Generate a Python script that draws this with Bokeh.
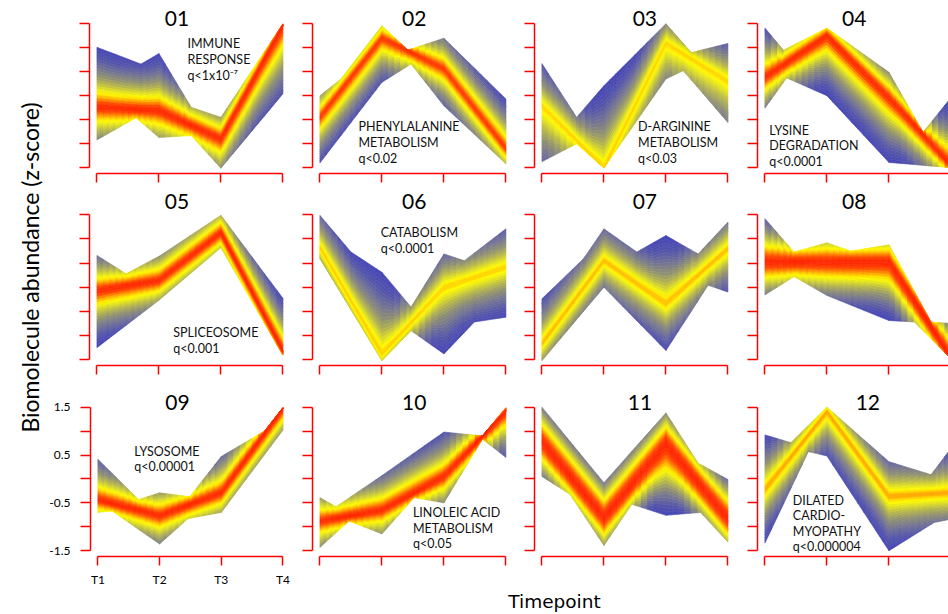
import numpy as np
from bokeh.plotting import figure
from bokeh.layouts import row, column
from bokeh.models import FixedTicker, Range1d
from bokeh.core.properties import value
from bokeh.embed import file_html
from bokeh.resources import INLINE

# ---------------- data (z-scores) ----------------
timepoints = [1, 2, 3, 4]
timepoint_labels = ["T1", "T2", "T3", "T4"]
y_ticks = [-1.5, -0.5, 0.5, 1.5]
y_minor_ticks = [-1.0, 0.0, 1.0]
cluster_ids = ["01", "02", "03", "04", "05", "06", "07", "08", "09", "10", "11", "12"]

# centre (highest-membership) profile of each cluster, at T1..T4
center_01 = [-0.24, -0.31, -0.90, 1.45]
center_02 = [-0.45, 1.20, 0.56, -1.10]
center_03 = [-0.20, -1.50, 1.10, 0.30]
center_04 = [0.38, 1.25, -0.04, -1.45]
center_05 = [-0.07, 0.14, 1.13, -1.31]
center_06 = [0.83, -1.38, 0.00, 0.42]
center_07 = [-1.17, 0.55, -0.34, 0.80]
center_08 = [0.52, 0.52, 0.52, -1.45]
center_09 = [-0.43, -0.77, -0.29, 1.47]
center_10 = [-0.88, -0.65, 0.05, 1.40]
center_11 = [0.78, -0.81, 0.74, -0.84]
center_12 = [-0.22, 1.40, -0.36, -0.29]

# upper envelope of the member profiles (time, z)
upper_01_t = [1, 1.71, 2, 2.52, 3, 4]
upper_01_z = [1.01, 0.66, 0.88, -0.24, -0.45, 1.50]
upper_02_t = [1, 1.34, 2, 2.42, 3, 4]
upper_02_z = [0.00, 0.35, 1.46, 0.95, 1.20, -0.07]
upper_03_t = [1, 1.56, 2, 3, 3.41, 4]
upper_03_z = [0.67, -0.45, 0.21, 1.50, 0.90, 1.09]
upper_04_t = [1, 1.30, 2, 3, 3.55, 4]
upper_04_z = [1.41, 0.95, 1.41, 0.49, -0.76, -0.04]
upper_05_t = [1, 1.47, 2, 3, 4]
upper_05_z = [0.66, 0.28, 0.64, 1.49, -0.23]
upper_06_t = [1, 1.50, 2, 2.47, 3, 3.33, 4]
upper_06_z = [1.49, 0.73, 0.31, -0.41, 0.69, 0.55, 1.21]
upper_07_t = [1, 1.67, 2, 2.53, 3, 3.52, 4]
upper_07_z = [-0.24, 0.59, 1.21, 0.73, 1.07, 0.69, 1.35]
upper_08_t = [1, 1.47, 2, 2.39, 3, 3.68, 4]
upper_08_z = [1.42, 0.73, 0.92, 0.75, 0.88, -0.72, -0.75]
upper_09_t = [1, 1.66, 2, 2.49, 3, 3.70, 4]
upper_09_z = [0.41, -0.43, -0.29, -0.37, 0.47, 1.00, 1.49]
upper_10_t = [1, 1.26, 2, 3, 3.62, 4]
upper_10_z = [-0.39, -0.58, 0.07, 0.98, 0.90, 1.49]
upper_11_t = [1, 2, 3, 3.52, 4]
upper_11_z = [1.50, -0.08, 1.38, 0.33, -0.01]
upper_12_t = [1, 1.42, 2, 3, 3.68, 4]
upper_12_z = [0.92, 0.76, 1.50, 0.36, 0.09, 0.64]

# lower envelope of the member profiles (time, z)
lower_01_t = [1, 1.63, 2, 2.52, 3, 4]
lower_01_z = [-0.92, -0.46, -0.87, -0.83, -1.51, 0.04]
lower_02_t = [1, 2, 2.47, 3, 4]
lower_02_z = [-1.40, 0.28, 0.66, -0.21, -1.42]
lower_03_t = [1, 1.56, 2, 3, 3.28, 4]
lower_03_z = [-1.375, -1.00, -1.50, 0.35, 0.52, -0.56]
lower_04_t = [1, 1.35, 2, 3, 4]
lower_04_z = [-0.26, 0.37, 0.00, -1.39, -1.50]
lower_05_t = [1, 2, 3, 4]
lower_05_z = [-1.25, -0.27, 0.82, -1.41]
lower_06_t = [1, 2, 2.47, 3, 3.49, 4]
lower_06_z = [0.59, -1.52, -0.90, -1.38, -0.72, -0.62]
lower_07_t = [1, 2, 3, 3.68, 4]
lower_07_z = [-1.52, 0.00, -1.31, 0.04, -0.10]
lower_08_t = [1, 1.47, 2, 3, 3.41, 4]
lower_08_z = [-0.16, 0.22, -0.17, -0.69, -0.72, -1.48]
lower_09_t = [1, 1.23, 2, 2.46, 3, 4]
lower_09_z = [-0.70, -0.67, -1.36, -0.83, -0.70, 1.02]
lower_10_t = [1, 1.47, 2, 2.52, 3, 3.62, 4]
lower_10_z = [-1.43, -0.88, -1.15, -0.39, -0.50, 0.83, 0.45]
lower_11_t = [1, 1.45, 2, 2.45, 3, 3.56, 4]
lower_11_z = [0.05, -0.32, -1.39, -0.53, -0.76, -0.70, -1.32]
lower_12_t = [1, 1.70, 2, 3, 3.73, 4]
lower_12_z = [-1.34, 0.57, 0.48, -1.50, -0.91, -0.84]

# enrichment annotations
label_01 = ["IMMUNE", "RESPONSE", "q<1x10\u207b\u2077"]
label_02 = ["PHENYLALANINE", "METABOLISM", "q<0.02"]
label_03 = ["D-ARGININE", "METABOLISM", "q<0.03"]
label_04 = ["LYSINE", "DEGRADATION", "q<0.0001"]
label_05 = ["SPLICEOSOME", "q<0.001"]
label_06 = ["CATABOLISM", "q<0.0001"]
label_09 = ["LYSOSOME", "q<0.00001"]
label_10 = ["LINOLEIC ACID", "METABOLISM", "q<0.05"]
label_12 = ["DILATED", "CARDIO-", "MYOPATHY", "q<0.000004"]

y_axis_title = "Biomolecule abundance (z-score)"
x_axis_title = "Timepoint"

clusters = {
    "01": (center_01, (upper_01_t, upper_01_z), (lower_01_t, lower_01_z)),
    "02": (center_02, (upper_02_t, upper_02_z), (lower_02_t, lower_02_z)),
    "03": (center_03, (upper_03_t, upper_03_z), (lower_03_t, lower_03_z)),
    "04": (center_04, (upper_04_t, upper_04_z), (lower_04_t, lower_04_z)),
    "05": (center_05, (upper_05_t, upper_05_z), (lower_05_t, lower_05_z)),
    "06": (center_06, (upper_06_t, upper_06_z), (lower_06_t, lower_06_z)),
    "07": (center_07, (upper_07_t, upper_07_z), (lower_07_t, lower_07_z)),
    "08": (center_08, (upper_08_t, upper_08_z), (lower_08_t, lower_08_z)),
    "09": (center_09, (upper_09_t, upper_09_z), (lower_09_t, lower_09_z)),
    "10": (center_10, (upper_10_t, upper_10_z), (lower_10_t, lower_10_z)),
    "11": (center_11, (upper_11_t, upper_11_z), (lower_11_t, lower_11_z)),
    "12": (center_12, (upper_12_t, upper_12_z), (lower_12_t, lower_12_z)),
}
labels = {"01": label_01, "02": label_02, "03": label_03, "04": label_04,
          "05": label_05, "06": label_06, "09": label_09, "10": label_10,
          "12": label_12}

# ---------------- layout / style ----------------
FONT = "Lato"
AXIS_RED = "#ff0000"
LEFT_STRIP_W = 46
COL_BORDER_L = [43, 12, 12, 12]
COL_BORDER_R = [10, 9, 10, 0]
COL_FRAME_W = [201, 201, 201, 191]
ROW_FRAME_H = [173, 180, 183]
ROW_BORDER_B = [12, 10, 31]
ROW_SCALE = [48.0, 48.3, 48.4]
BOTTOM_STRIP_H = 25
X_SCALE = 62.0
PAD = 0.12
ROW_TITLE_Y = [1.615, 1.78, 1.60]
TITLE_X = {"01": 2.29, "02": 2.52, "03": 2.66, "04": 2.44, "05": 2.29, "06": 2.52,
           "07": 2.66, "08": 2.44, "09": 2.29, "10": 2.52, "11": 2.58, "12": 2.66}
LABEL_POS = {"01": (2.46, 1.08), "02": (1.62, -0.646), "03": (2.55, -0.646),
             "04": (1.07, -0.715), "05": (2.23, -0.94), "06": (1.98, 1.13),
             "09": (1.59, 0.583), "10": (2.50, -0.70), "12": (1.45, -0.44)}
LABEL_STEP = 0.326
CORE = {"02": 0.03, "03": 0.185, "06": 0.18, "07": 0.16, "12": 0.14}
SHARP = {"11": 1.35, "08": 1.2}
REACH = {"01": (1.0, 0.85), "03": (1.0, 0.68)}   # colour reach (upper side, lower side)

# colour ramp: centre (0) -> outer, low-membership members (1)
STOP_POS = [0.00, 0.07, 0.13, 0.19, 0.24, 0.31, 0.40, 0.52, 0.66, 0.82, 1.00]
STOP_R = [255, 255, 255, 255, 255, 225, 185, 145, 115, 85, 70]
STOP_G = [35, 70, 140, 210, 250, 225, 185, 145, 115, 85, 70]
STOP_B = [0, 0, 0, 0, 0, 35, 75, 115, 150, 172, 182]
W_NORM = 1.1
P_EXP = 0.8
NX = 30
K = 20


def to_hex(idx):
    idx = np.clip(np.asarray(idx, dtype=float), 0, 1)
    r = np.interp(idx, STOP_POS, STOP_R)
    g = np.interp(idx, STOP_POS, STOP_G)
    b = np.interp(idx, STOP_POS, STOP_B)
    return ["#%02x%02x%02x" % (int(round(a)), int(round(bb)), int(round(cc)))
            for a, bb, cc in zip(r, g, b)]


def band(center, upper, lower, core, sharp, reach):
    ut, uz = upper
    lt, lz = lower
    xg = np.unique(np.round(np.concatenate([np.linspace(1, 4, NX + 1), ut, lt]), 6))
    c = np.interp(xg, timepoints, center)
    U = np.maximum(np.interp(xg, ut, uz), c)
    L = np.minimum(np.interp(xg, lt, lz), c)
    ts = np.linspace(0, 1, K + 1)
    items = []
    for E, rch in ((U, reach[0]), (L, reach[1])):
        d = np.abs(E - c)
        f = rch * np.minimum(1.0, d / W_NORM) ** P_EXP
        for i in range(K):
            t0, t1 = ts[i], ts[i + 1]
            tm = 0.5 * (t0 + t1)
            y0 = c + t0 * (E - c)
            y1 = c + t1 * (E - c)
            for j in range(len(xg) - 1):
                if d[j] < 1e-9 and d[j + 1] < 1e-9:
                    continue
                raw = (tm * 0.5 * (f[j] + f[j + 1])) ** sharp
                idx = core + (1 - core) * raw
                items.append((tm, [xg[j], xg[j + 1], xg[j + 1], xg[j]],
                              [y0[j], y0[j + 1], y1[j + 1], y1[j]], idx))
    items.sort(key=lambda it: -it[0])
    xs = [it[1] for it in items]
    ys = [it[2] for it in items]
    cols = to_hex([it[3] for it in items])
    return xs, ys, cols


def style_axes(p, show_labels):
    xa = p.xaxis[0]
    ya = p.yaxis[0]
    for ax in (xa, ya):
        ax.axis_line_color = AXIS_RED
        ax.axis_line_width = 1.5
        ax.major_tick_line_color = AXIS_RED
        ax.major_tick_line_width = 1.5
        ax.major_tick_in = 0
        ax.minor_tick_line_color = AXIS_RED
        ax.minor_tick_line_width = 1.5
        ax.minor_tick_in = 0
    xa.major_tick_out = 9
    ya.major_tick_out = 10
    ya.minor_tick_out = 10
    xa.ticker = FixedTicker(ticks=timepoints, minor_ticks=[])
    ya.ticker = FixedTicker(ticks=y_ticks, minor_ticks=y_minor_ticks)
    xa.bounds = (1, 4)
    ya.bounds = (-1.5, 1.5)
    if show_labels:
        xa.major_label_overrides = {t: s for t, s in zip(timepoints, timepoint_labels)}
        ya.major_label_overrides = {v: ("%g" % v) for v in y_ticks}
        for ax in (xa, ya):
            ax.major_label_text_font = FONT
            ax.major_label_text_font_size = "12px"
            ax.major_label_text_color = "black"
        xa.major_label_standoff = 6
        ya.major_label_standoff = 10
    else:
        xa.major_label_overrides = {t: "" for t in timepoints}
        ya.major_label_overrides = {v: "" for v in y_ticks}
        for ax in (xa, ya):
            ax.major_label_text_font_size = "0px"
            ax.major_label_standoff = 0


def make_panel(k, r, cidx):
    cid = cluster_ids[k]
    width = COL_BORDER_L[cidx] + COL_FRAME_W[cidx] + COL_BORDER_R[cidx]
    height = ROW_FRAME_H[r] + ROW_BORDER_B[r]
    x0 = 1 - PAD
    y0 = -1.5 - PAD
    p = figure(width=width, height=height,
               x_range=Range1d(x0, x0 + COL_FRAME_W[cidx] / X_SCALE),
               y_range=Range1d(y0, y0 + ROW_FRAME_H[r] / ROW_SCALE[r]),
               output_backend="svg", toolbar_location=None, title=None,
               min_border_left=COL_BORDER_L[cidx], min_border_right=COL_BORDER_R[cidx],
               min_border_top=0, min_border_bottom=ROW_BORDER_B[r])
    p.outline_line_color = None
    p.grid.visible = False
    p.background_fill_color = "white"
    p.border_fill_color = "white"
    style_axes(p, cid == "09")

    center, upper, lower = clusters[cid]
    xs, ys, cols = band(center, upper, lower, CORE.get(cid, 0.0), SHARP.get(cid, 1.0),
                        REACH.get(cid, (1.0, 1.0)))
    p.patches(xs=xs, ys=ys, fill_color=cols, line_color=cols, line_width=0.6)

    p.text(x=[TITLE_X[cid]], y=[ROW_TITLE_Y[r]], text=[cid],
           text_font=value(FONT), text_font_size="21px", text_color="black",
           text_align="center", text_baseline="middle")
    if cid in labels:
        lines = labels[cid]
        lx, ly = LABEL_POS[cid]
        p.text(x=[lx] * len(lines), y=[ly - i * LABEL_STEP for i in range(len(lines))],
               text=lines, text_font=value(FONT), text_font_size="12.5px",
               text_color="#111111", text_align="left", text_baseline="middle")
    return p


rows = []
for r in range(3):
    figs = [make_panel(r * 4 + cidx, r, cidx) for cidx in range(4)]
    rows.append(row(*figs))

grid_width = sum(COL_BORDER_L) + sum(COL_FRAME_W) + sum(COL_BORDER_R)
total_height = sum(ROW_FRAME_H) + sum(ROW_BORDER_B) + BOTTOM_STRIP_H

ylab = figure(width=LEFT_STRIP_W, height=total_height, x_range=Range1d(0, LEFT_STRIP_W),
              y_range=Range1d(0, total_height), output_backend="svg",
              toolbar_location=None, x_axis_type=None, y_axis_type=None,
              min_border=0, title=None)
ylab.outline_line_color = None
ylab.text(x=[29], y=[total_height - 267], text=[y_axis_title], angle=np.pi / 2,
          text_font=value(FONT), text_font_size="23px", text_color="black",
          text_align="center", text_baseline="middle")

xlab = figure(width=grid_width, height=BOTTOM_STRIP_H, x_range=Range1d(0, grid_width),
              y_range=Range1d(0, BOTTOM_STRIP_H), output_backend="svg",
              toolbar_location=None, x_axis_type=None, y_axis_type=None,
              min_border=0, title=None)
xlab.outline_line_color = None
xlab.text(x=[554 - LEFT_STRIP_W], y=[13.5], text=[x_axis_title],
          text_font=value("DejaVu Sans"), text_font_size="18.5px", text_color="black",
          text_align="center", text_baseline="middle")

layout = row(ylab, column(*rows, xlab))

with open("out.html", "w") as fh:
    fh.write(file_html(layout, INLINE))
